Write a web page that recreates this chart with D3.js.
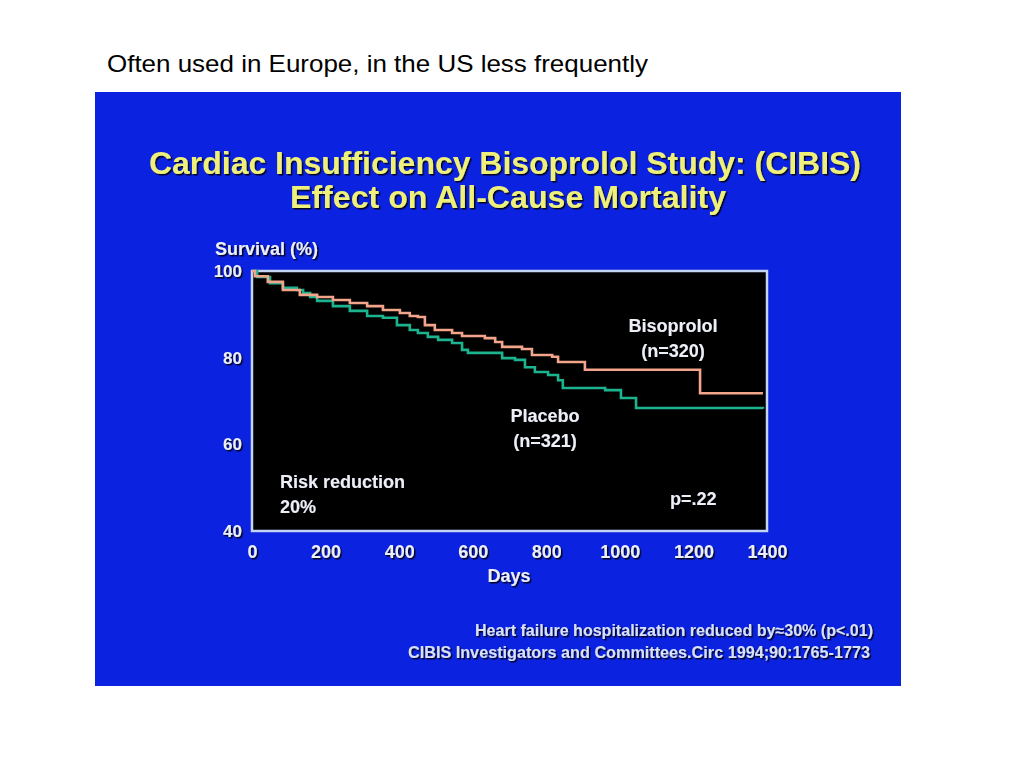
<!DOCTYPE html>
<html>
<head>
<meta charset="utf-8">
<script src="https://cdn.jsdelivr.net/npm/d3@7"></script>
<style>
  body { margin: 0; background: #fff; }
  svg { display: block; }
</style>
</head>
<body>
<div id="chart"></div>
<script>
// survival curves: [day, survival %]
const bisoprolol = [
  [0, 100], [8, 98.8], [43, 97.5], [84, 95.6], [130, 94.5], [177, 94.0],
  [220, 93.3], [266, 92.6], [313, 91.9], [356, 91.0], [402, 90.3], [429, 89.6],
  [451, 89.4], [470, 87.5], [497, 86.4], [544, 85.7], [571, 85.0], [633, 84.5],
  [661, 83.6], [680, 82.5], [734, 82.0], [761, 80.6], [816, 80.2], [832, 79.0],
  [905, 77.2], [1218, 71.8], [1389, 71.8]
];
const placebo = [
  [0, 100], [14, 98.6], [49, 97.2], [84, 96.1], [122, 95.6], [139, 94.9],
  [158, 94.0], [177, 93.1], [220, 91.9], [266, 90.8], [313, 89.6], [356, 89.2],
  [394, 87.5], [429, 86.4], [451, 85.7], [478, 84.8], [506, 84.1], [544, 83.4],
  [571, 81.8], [587, 81.1], [680, 79.9], [715, 79.5], [742, 77.8], [769, 76.7],
  [805, 76.0], [832, 74.8], [845, 73.0], [960, 72.5], [1003, 70.7], [1044, 68.4],
  [1389, 68.2]
];
const xTicks = [0, 200, 400, 600, 800, 1000, 1200, 1400];
const yTicks = [40, 60, 80, 100];

const width = 1024, height = 768;
const svg = d3.select("#chart").append("svg")
  .attr("width", width)
  .attr("height", height);

const defs = svg.append("defs");
const shadow = defs.append("filter").attr("id", "shadow")
  .attr("x", "-10%").attr("y", "-30%").attr("width", "120%").attr("height", "160%");
shadow.append("feDropShadow")
  .attr("dx", 1.5).attr("dy", 1.5).attr("stdDeviation", 0.6)
  .attr("flood-color", "#000").attr("flood-opacity", 0.85);
const glow = defs.append("filter").attr("id", "glow");
glow.append("feGaussianBlur").attr("stdDeviation", 0.6);

// caption above the slide
svg.append("text")
  .attr("x", 107).attr("y", 72)
  .attr("textLength", 541).attr("lengthAdjust", "spacingAndGlyphs")
  .style("font-family", "Liberation Sans, Arial, sans-serif")
  .style("font-size", "24px")
  .attr("fill", "#000")
  .text("Often used in Europe, in the US less frequently");

// slide background
svg.append("rect")
  .attr("x", 95).attr("y", 92)
  .attr("width", 806).attr("height", 594)
  .attr("fill", "#0b22e0");

const slideFont = "Liberation Sans, Arial, sans-serif";

svg.append("text")
  .attr("x", 505).attr("y", 174)
  .attr("text-anchor", "middle")
  .attr("textLength", 712).attr("lengthAdjust", "spacingAndGlyphs")
  .style("font-family", slideFont).style("font-weight", "bold").style("font-size", "32px")
  .attr("fill", "#eef07a").attr("filter", "url(#shadow)")
  .text("Cardiac Insufficiency Bisoprolol Study: (CIBIS)");

svg.append("text")
  .attr("x", 508).attr("y", 208)
  .attr("text-anchor", "middle")
  .attr("textLength", 436).attr("lengthAdjust", "spacingAndGlyphs")
  .style("font-family", slideFont).style("font-weight", "bold").style("font-size", "32px")
  .attr("fill", "#eef07a").attr("filter", "url(#shadow)")
  .text("Effect on All-Cause Mortality");

// plot area
const plotLeft = 252, plotRight = 767, plotTop = 271, plotBottom = 531;
const x = d3.scaleLinear().domain([0, 1400]).range([plotLeft, plotRight]);
const y = d3.scaleLinear().domain([40, 100]).range([plotBottom, plotTop]);

svg.append("rect")
  .attr("x", plotLeft).attr("y", plotTop)
  .attr("width", plotRight - plotLeft).attr("height", plotBottom - plotTop)
  .attr("fill", "#000")
  .attr("stroke", "#c4d4f4").attr("stroke-width", 2.5);

const labelColor = "#eceef8";

const xAxis = svg.append("g")
  .attr("transform", `translate(0,${plotBottom})`)
  .call(d3.axisBottom(x).tickValues(xTicks).tickFormat(d3.format("d")).tickSize(0).tickPadding(14));
xAxis.select(".domain").remove();
xAxis.selectAll("text")
  .style("font-family", slideFont).style("font-weight", "bold").style("font-size", "18px")
  .attr("fill", labelColor).attr("filter", "url(#shadow)");

const yAxis = svg.append("g")
  .attr("transform", `translate(${plotLeft},0)`)
  .call(d3.axisLeft(y).tickValues(yTicks).tickSize(0).tickPadding(10));
yAxis.select(".domain").remove();
yAxis.selectAll("text")
  .style("font-family", slideFont).style("font-weight", "bold").style("font-size", "17px")
  .attr("fill", labelColor).attr("filter", "url(#shadow)");

function slideText(tx, ty, str, anchor, size) {
  svg.append("text")
    .attr("x", tx).attr("y", ty)
    .attr("text-anchor", anchor || "start")
    .style("font-family", slideFont).style("font-weight", "bold")
    .style("font-size", (size || 18) + "px")
    .attr("fill", labelColor).attr("filter", "url(#shadow)")
    .text(str);
}

slideText(215, 255, "Survival (%)");
slideText(509, 582, "Days", "middle");

// survival step lines
const line = d3.line()
  .x(d => x(d[0]))
  .y(d => y(d[1]))
  .curve(d3.curveStepAfter);

svg.append("path")
  .datum(placebo)
  .attr("d", line)
  .attr("fill", "none")
  .attr("stroke", "#1fb48e")
  .attr("stroke-width", 2.6)
  .attr("filter", "url(#glow)");

svg.append("path")
  .datum(bisoprolol)
  .attr("d", line)
  .attr("fill", "none")
  .attr("stroke", "#f2a58a")
  .attr("stroke-width", 2.6)
  .attr("filter", "url(#glow)");

// annotations in the plot
slideText(673, 332, "Bisoprolol", "middle");
slideText(673, 357, "(n=320)", "middle");
slideText(545, 422, "Placebo", "middle");
slideText(545, 447, "(n=321)", "middle");
slideText(280, 488, "Risk reduction");
slideText(280, 513, "20%");
slideText(670, 505, "p=.22");

// footnotes
svg.append("text")
  .attr("x", 873).attr("y", 636)
  .attr("text-anchor", "end")
  .attr("textLength", 398).attr("lengthAdjust", "spacingAndGlyphs")
  .style("font-family", slideFont).style("font-weight", "bold").style("font-size", "16px")
  .attr("fill", "#d8e0fa").attr("filter", "url(#shadow)")
  .text("Heart failure hospitalization reduced by\u224830% (p<.01)");

svg.append("text")
  .attr("x", 870).attr("y", 658)
  .attr("text-anchor", "end")
  .attr("textLength", 462).attr("lengthAdjust", "spacingAndGlyphs")
  .style("font-family", slideFont).style("font-weight", "bold").style("font-size", "16px")
  .attr("fill", "#d8e0fa").attr("filter", "url(#shadow)")
  .text("CIBIS Investigators and Committees.Circ 1994;90:1765-1773");
</script>
</body>
</html>
